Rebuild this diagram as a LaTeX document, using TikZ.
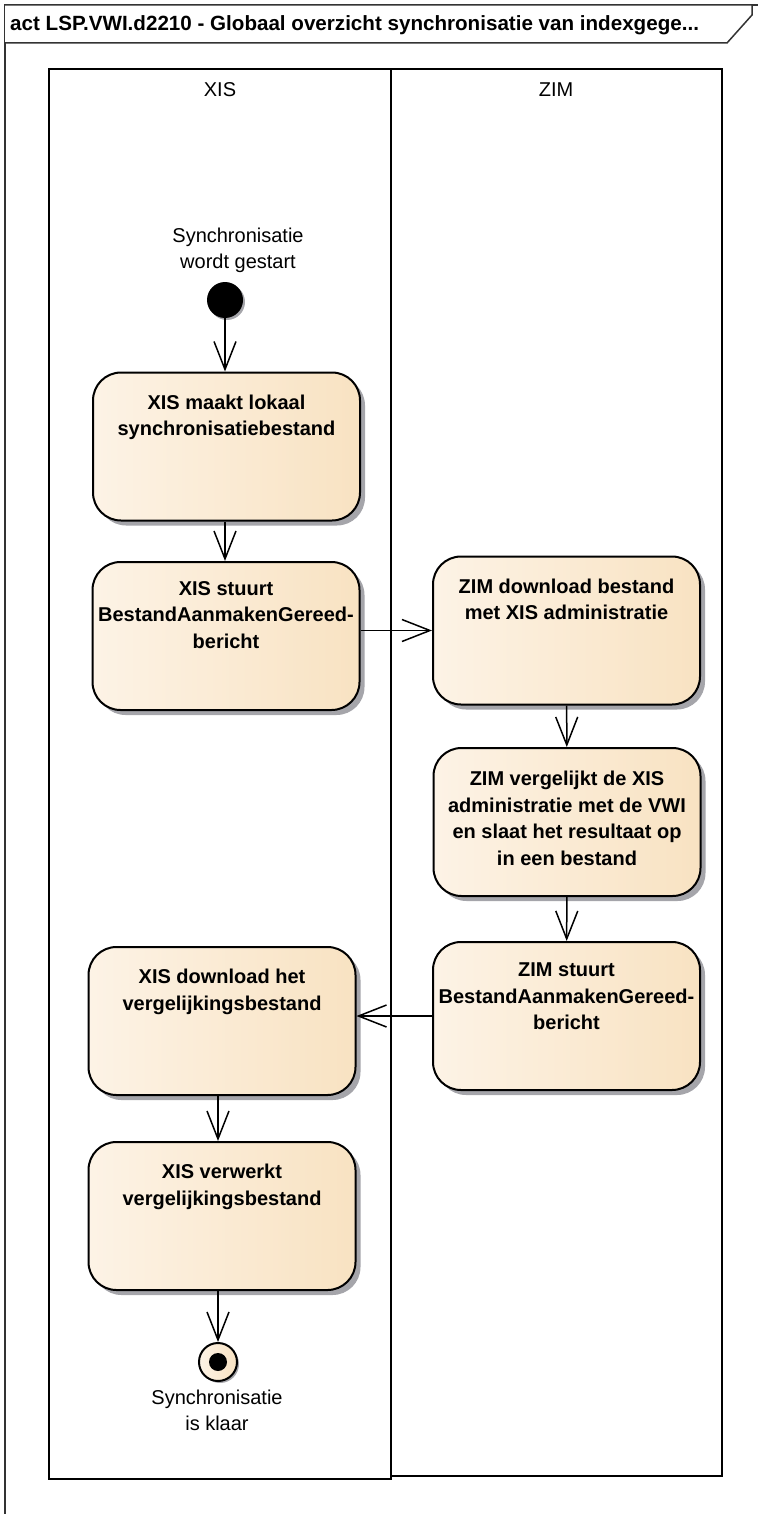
\documentclass[tikz,border=0pt]{standalone}
\usepackage{fontspec}
\setmainfont{Liberation Sans}
\usetikzlibrary{arrows.meta,shadows}
\definecolor{gl}{RGB}{248,228,200}
\definecolor{gm}{RGB}{253,244,232}
\definecolor{gr}{RGB}{246,218,176}
\definecolor{shgray}{RGB}{165,165,170}
\pgfdeclarehorizontalshading{actgrad}{100bp}{color(0bp)=(gl); color(22bp)=(gm); color(100bp)=(gr)}
\tikzset{
  act/.style={draw=black, line width=2pt, rounded corners=28pt, shading=actgrad,
    minimum width=267pt, minimum height=148pt, inner sep=0pt,
    drop shadow={shadow xshift=5pt, shadow yshift=-5pt, fill=shgray, opacity=1}},
  acttext/.style={anchor=north, inner sep=0pt, align=center,
    font=\bfseries\fontsize{20}{26.5}\selectfont},
  lbl/.style={inner sep=0pt, align=center, font=\fontsize{20}{26}\selectfont},
  conn/.style={line width=1.5pt, -{Straight Barb[length=28pt,width=22pt,line width=1.5pt]}},
  lane/.style={draw=black, line width=2pt},
  frame/.style={draw=black!80, line width=1.5pt}
}
\begin{document}
\begin{tikzpicture}[x=1pt,y=-1pt]
\useasboundingbox (0,0) rectangle (758,1514);
% frame
\draw[frame] (5,1514) -- (5,5) -- (758,5);
\draw[frame, fill=white] (5,5) -- (752,5) -- (752,15) -- (727,43) -- (5,43);
\node[anchor=west, inner sep=0pt, font=\bfseries\fontsize{20.6}{24}\selectfont] (title) at (10,25)
  {act LSP.VWI.d2210 - Globaal overzicht synchronisatie van indexgege...};
% lanes
\draw[lane] (49,69) rectangle (391,1479);
\draw[lane] (391,69) rectangle (722,1476);
\node[lbl] (lxis) at (220,90) {XIS};
\node[lbl] (lzim) at (556,90) {ZIM};
% start
\node[lbl] (startlbl) at (238,250) {Synchronisatie\\wordt gestart};
\node[circle, fill=black, minimum size=36pt, inner sep=0pt,
  drop shadow={shadow xshift=2pt, shadow yshift=-2pt, fill=shgray, opacity=1}] (start) at (225,300) {};
% actions
\node[act] (b1) at (226.5,446.5) {};
\node[acttext] at ([yshift=-23pt]b1.north) {XIS maakt lokaal\\synchronisatiebestand};
\node[act] (b2) at (226,636) {};
\node[acttext] at ([yshift=-20pt]b2.north) {XIS stuurt\\BestandAanmakenGereed-\\bericht};
\node[act] (z1) at (566.5,630.5) {};
\node[acttext] at ([yshift=-23pt]z1.north) {ZIM download bestand\\met XIS administratie};
\node[act] (z2) at (567,822) {};
\node[acttext] at ([yshift=-24pt]z2.north) {ZIM vergelijkt de XIS\\administratie met de VWI\\en slaat het resultaat op\\in een bestand};
\node[act] (z3) at (566.5,1016) {};
\node[acttext] at ([yshift=-22pt]z3.north) {ZIM stuurt\\BestandAanmakenGereed-\\bericht};
\node[act] (x3) at (222,1021) {};
\node[acttext] at ([yshift=-23pt]x3.north) {XIS download het\\vergelijkingsbestand};
\node[act] (x4) at (222,1216) {};
\node[acttext] at ([yshift=-23pt]x4.north) {XIS verwerkt\\vergelijkingsbestand};
% final
\node[circle, draw=black, line width=2pt, shading=actgrad, minimum size=38pt, inner sep=0pt,
  drop shadow={shadow xshift=2pt, shadow yshift=-2pt, fill=shgray, opacity=1}] (final) at (218,1362) {};
\node[circle, fill=black, minimum size=18pt, inner sep=0pt] (finaldot) at (final) {};
\node[lbl] (endlbl) at (217,1410) {Synchronisatie\\is klaar};
% connectors
\draw[conn] (start) -- (start |- b1.north);
\draw[conn] (b1.south -| start) -- (b2.north -| start);
\draw[conn] (b2.east |- z1) -- (z1.west);
\draw[conn] (z1) -- (z2);
\draw[conn] (z2) -- (z3);
\draw[conn] (z3.west) -- (z3.west -| x3.east);
\draw[conn] (x3.south -| final) -- (x4.north -| final);
\draw[conn] (x4.south -| final) -- (final);
\end{tikzpicture}
\end{document}
